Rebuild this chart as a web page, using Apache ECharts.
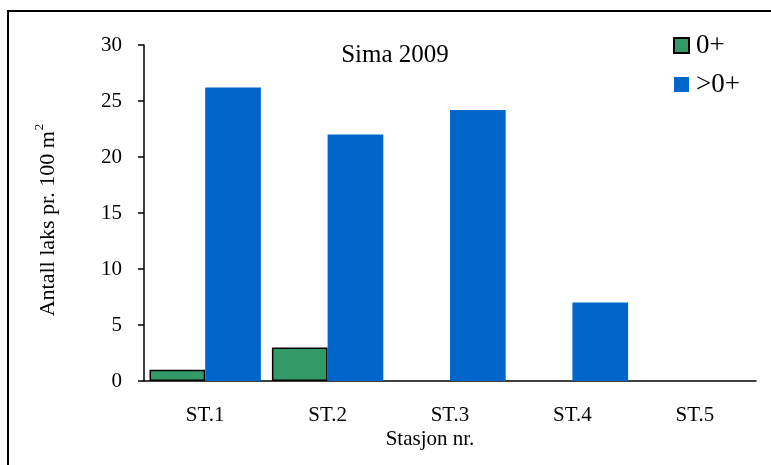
<!DOCTYPE html>
<html>
<head>
<meta charset="utf-8">
<script src="https://cdn.jsdelivr.net/npm/echarts@6/dist/echarts.min.js"></script>
<style>
  html, body { margin: 0; padding: 0; background: #fff; }
  #chart { width: 771px; height: 465px; }
</style>
</head>
<body>
<div id="chart"></div>
<script>
// Stations and fish density per 100 m2
const stations = ['ST.1', 'ST.2', 'ST.3', 'ST.4', 'ST.5'];
const fry = [1, 3, 0, 0, 0];          // 0+
const parr = [26.2, 22, 24.2, 7, 0];   // >0+
const yTicks = [0, 5, 10, 15, 20, 25, 30];

const serif = '"Liberation Serif", "Times New Roman", serif';
const chart = echarts.init(document.getElementById('chart'));

// empty bars get no outline
const fryData = fry.map(v => v === 0 ? { value: v, itemStyle: { borderWidth: 0 } } : v);

chart.setOption({
  animation: false,
  backgroundColor: '#fff',
  title: {
    text: 'Sima 2009',
    left: 390, top: 38, textAlign: 'center',
    textStyle: { fontFamily: serif, fontSize: 25, fontWeight: 'normal', color: '#000' }
  },
  legend: {
    orient: 'vertical',
    left: 668, top: 27,
    itemWidth: 15, itemHeight: 15, itemGap: 12,
    icon: 'rect',
    textStyle: { fontFamily: serif, fontSize: 27, color: '#000', padding: [0, 0, 0, 2] },
    data: ['0+', '>0+']
  },
  grid: { left: 144, right: 15, top: 45, bottom: 84 },
  xAxis: {
    type: 'category',
    data: stations,
    axisLine: { lineStyle: { color: '#000', width: 1.5 } },
    axisTick: { length: 6, lineStyle: { color: '#000', width: 1.5 } },
    axisLabel: { fontFamily: serif, fontSize: 21, color: '#000', margin: 24 }
  },
  yAxis: {
    type: 'value',
    min: yTicks[0], max: yTicks[yTicks.length - 1], interval: 5,
    axisLine: { show: true, lineStyle: { color: '#000', width: 1.5 } },
    axisTick: { show: true, length: 6, lineStyle: { color: '#000', width: 1.5 } },
    splitLine: { show: false },
    axisLabel: { fontFamily: serif, fontSize: 21, color: '#000', margin: 22 }
  },
  series: [
    {
      name: '0+', type: 'bar', data: fryData,
      barGap: '0%', barCategoryGap: '9%',
      itemStyle: { color: '#339966', borderColor: '#000', borderWidth: 1.5 }
    },
    {
      name: '>0+', type: 'bar', data: parr,
      itemStyle: { color: '#0066CC' }
    }
  ],
  graphic: [
    {
      type: 'rect', silent: true,
      shape: { x: 8, y: 11, width: 800, height: 500 },
      style: { fill: null, stroke: '#000', lineWidth: 2 }
    },
    {
      type: 'text', silent: true,
      style: {
        x: 430, y: 439,
        text: 'Stasjon nr.',
        align: 'center', verticalAlign: 'middle',
        font: '21px ' + serif, fill: '#000'
      }
    },
    {
      type: 'text', silent: true,
      x: 48, y: 220, rotation: Math.PI / 2,
      style: {
        text: 'Antall laks pr. 100 m{sup|2}',
        align: 'center', verticalAlign: 'middle',
        font: '22px ' + serif, fill: '#000',
        rich: { sup: { fontSize: 13, fontFamily: serif, verticalAlign: 'top', padding: [0, 0, 16, 1] } }
      }
    }
  ]
});
</script>
</body>
</html>
